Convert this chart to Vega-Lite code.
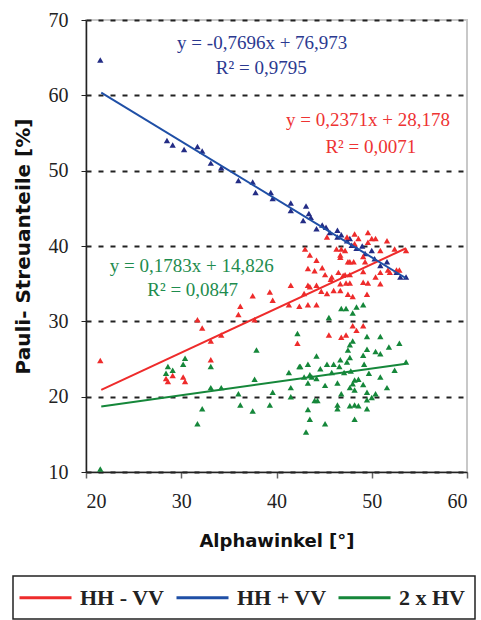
{
  "$schema": "https://vega.github.io/schema/vega-lite/v6.json",
  "width": 381,
  "height": 452,
  "autosize": {"type": "none"},
  "padding": {"left": 86, "top": 20, "right": 14, "bottom": 148},
  "background": "white",
  "config": {
    "view": {"stroke": "#c8c8c8", "strokeWidth": 2},
    "legend": {
      "orient": "none", "legendX": -73, "legendY": 556, "direction": "horizontal",
      "symbolType": "M-2.6,0H2.6", "symbolSize": 400, "symbolStrokeWidth": 3,
      "symbolOffset": 11, "labelOffset": 23,
      "labelFont": "Liberation Serif", "labelFontWeight": "bold", "labelFontSize": 22, "labelColor": "#222",
      "strokeColor": "#222", "strokeWidth": 1.5, "fillColor": "white", "padding": 10,
      "columnPadding": 5
    }
  },
  "datasets": {
    "pts": [
      {"s": "HH + VV", "x": 21.5, "y": 64.7}, {"s": "HH + VV", "x": 28.5, "y": 54.0}, {"s": "HH + VV", "x": 29.1, "y": 53.4},
      {"s": "HH + VV", "x": 30.3, "y": 52.8}, {"s": "HH + VV", "x": 31.7, "y": 53.2}, {"s": "HH + VV", "x": 32.2, "y": 52.6},
      {"s": "HH + VV", "x": 33.1, "y": 51.0}, {"s": "HH + VV", "x": 34.2, "y": 50.4}, {"s": "HH + VV", "x": 36.0, "y": 48.7},
      {"s": "HH + VV", "x": 37.5, "y": 48.5}, {"s": "HH + VV", "x": 37.8, "y": 47.1}, {"s": "HH + VV", "x": 39.4, "y": 47.1},
      {"s": "HH + VV", "x": 39.6, "y": 46.3}, {"s": "HH + VV", "x": 41.5, "y": 45.7}, {"s": "HH + VV", "x": 41.5, "y": 44.7},
      {"s": "HH + VV", "x": 43.1, "y": 45.3}, {"s": "HH + VV", "x": 43.4, "y": 44.3}, {"s": "HH + VV", "x": 42.8, "y": 43.4},
      {"s": "HH + VV", "x": 43.6, "y": 43.8}, {"s": "HH + VV", "x": 44.2, "y": 42.3}, {"s": "HH + VV", "x": 45.2, "y": 42.5},
      {"s": "HH + VV", "x": 46.4, "y": 42.1}, {"s": "HH + VV", "x": 46.4, "y": 41.2}, {"s": "HH + VV", "x": 47.4, "y": 40.7},
      {"s": "HH + VV", "x": 47.9, "y": 40.1}, {"s": "HH + VV", "x": 48.4, "y": 39.7}, {"s": "HH + VV", "x": 46.8, "y": 41.5},
      {"s": "HH + VV", "x": 47.7, "y": 41.0}, {"s": "HH + VV", "x": 50.0, "y": 39.4}, {"s": "HH + VV", "x": 50.3, "y": 38.3},
      {"s": "HH + VV", "x": 51.6, "y": 37.9}, {"s": "HH + VV", "x": 50.9, "y": 37.4}, {"s": "HH + VV", "x": 53.0, "y": 35.9},
      {"s": "HH + VV", "x": 53.6, "y": 35.9}, {"s": "HH + VV", "x": 49.3, "y": 39.0}, {"s": "HH + VV", "x": 52.6, "y": 36.5},
      {"s": "HH + VV", "x": 44.8, "y": 42.8}, {"s": "HH + VV", "x": 45.6, "y": 41.8}, {"s": "HH + VV", "x": 49.0, "y": 40.0},

      {"s": "HH - VV", "x": 21.5, "y": 24.8}, {"s": "HH - VV", "x": 28.4, "y": 22.4}, {"s": "HH - VV", "x": 28.6, "y": 22.0},
      {"s": "HH - VV", "x": 29.1, "y": 22.8}, {"s": "HH - VV", "x": 30.2, "y": 22.6}, {"s": "HH - VV", "x": 30.4, "y": 22.0},
      {"s": "HH - VV", "x": 31.7, "y": 30.2}, {"s": "HH - VV", "x": 32.2, "y": 29.1}, {"s": "HH - VV", "x": 33.1, "y": 27.4},
      {"s": "HH - VV", "x": 33.1, "y": 24.9}, {"s": "HH - VV", "x": 34.2, "y": 28.2}, {"s": "HH - VV", "x": 36.0, "y": 30.9},
      {"s": "HH - VV", "x": 36.2, "y": 32.0}, {"s": "HH - VV", "x": 37.5, "y": 33.4}, {"s": "HH - VV", "x": 37.7, "y": 30.2},
      {"s": "HH - VV", "x": 39.3, "y": 33.9}, {"s": "HH - VV", "x": 39.6, "y": 32.8}, {"s": "HH - VV", "x": 41.5, "y": 34.8},
      {"s": "HH - VV", "x": 41.3, "y": 32.2}, {"s": "HH - VV", "x": 42.4, "y": 32.0}, {"s": "HH - VV", "x": 43.3, "y": 34.8},
      {"s": "HH - VV", "x": 43.5, "y": 34.6}, {"s": "HH - VV", "x": 42.9, "y": 33.7}, {"s": "HH - VV", "x": 44.2, "y": 34.8},
      {"s": "HH - VV", "x": 44.7, "y": 34.0}, {"s": "HH - VV", "x": 43.3, "y": 32.2}, {"s": "HH - VV", "x": 44.2, "y": 32.2},
      {"s": "HH - VV", "x": 45.3, "y": 33.7}, {"s": "HH - VV", "x": 45.1, "y": 36.2}, {"s": "HH - VV", "x": 45.7, "y": 35.6},
      {"s": "HH - VV", "x": 46.0, "y": 34.1}, {"s": "HH - VV", "x": 46.7, "y": 35.0}, {"s": "HH - VV", "x": 46.7, "y": 34.1},
      {"s": "HH - VV", "x": 46.5, "y": 36.5}, {"s": "HH - VV", "x": 47.2, "y": 36.2}, {"s": "HH - VV", "x": 47.7, "y": 36.2},
      {"s": "HH - VV", "x": 47.3, "y": 35.1}, {"s": "HH - VV", "x": 47.7, "y": 35.1}, {"s": "HH - VV", "x": 47.5, "y": 33.6},
      {"s": "HH - VV", "x": 48.0, "y": 33.3}, {"s": "HH - VV", "x": 49.5, "y": 33.6}, {"s": "HH - VV", "x": 49.6, "y": 35.1},
      {"s": "HH - VV", "x": 45.5, "y": 28.2}, {"s": "HH - VV", "x": 42.2, "y": 27.1},
      {"s": "HH - VV", "x": 46.8, "y": 27.9}, {"s": "HH - VV", "x": 47.3, "y": 28.2}, {"s": "HH - VV", "x": 48.0, "y": 29.4},
      {"s": "HH - VV", "x": 48.4, "y": 28.8}, {"s": "HH - VV", "x": 49.1, "y": 29.4}, {"s": "HH - VV", "x": 49.1, "y": 35.2},
      {"s": "HH - VV", "x": 50.9, "y": 35.0}, {"s": "HH - VV", "x": 50.4, "y": 35.9}, {"s": "HH - VV", "x": 50.9, "y": 36.5},
      {"s": "HH - VV", "x": 49.1, "y": 36.6}, {"s": "HH - VV", "x": 51.7, "y": 36.8}, {"s": "HH - VV", "x": 52.6, "y": 36.8},
      {"s": "HH - VV", "x": 48.2, "y": 41.6}, {"s": "HH - VV", "x": 49.6, "y": 41.8}, {"s": "HH - VV", "x": 47.4, "y": 41.2},
      {"s": "HH - VV", "x": 48.6, "y": 41.0}, {"s": "HH - VV", "x": 50.0, "y": 41.0}, {"s": "HH - VV", "x": 50.4, "y": 41.0},
      {"s": "HH - VV", "x": 51.6, "y": 40.7}, {"s": "HH - VV", "x": 48.2, "y": 40.3}, {"s": "HH - VV", "x": 49.6, "y": 40.5},
      {"s": "HH - VV", "x": 50.9, "y": 39.4}, {"s": "HH - VV", "x": 52.4, "y": 39.6}, {"s": "HH - VV", "x": 53.6, "y": 39.4},
      {"s": "HH - VV", "x": 46.7, "y": 38.5}, {"s": "HH - VV", "x": 47.7, "y": 37.9}, {"s": "HH - VV", "x": 48.1, "y": 37.9},
      {"s": "HH - VV", "x": 49.1, "y": 38.6}, {"s": "HH - VV", "x": 49.3, "y": 37.9}, {"s": "HH - VV", "x": 51.9, "y": 36.5},
      {"s": "HH - VV", "x": 52.9, "y": 36.8}, {"s": "HH - VV", "x": 47.0, "y": 36.1}, {"s": "HH - VV", "x": 46.8, "y": 39.6},
      {"s": "HH - VV", "x": 47.2, "y": 39.4}, {"s": "HH - VV", "x": 45.3, "y": 41.2}, {"s": "HH - VV", "x": 46.3, "y": 39.6},
      {"s": "HH - VV", "x": 43.0, "y": 39.6}, {"s": "HH - VV", "x": 43.5, "y": 38.8}, {"s": "HH - VV", "x": 44.2, "y": 38.1},
      {"s": "HH - VV", "x": 43.3, "y": 37.0}, {"s": "HH - VV", "x": 44.0, "y": 36.7}, {"s": "HH - VV", "x": 44.8, "y": 37.1},
      {"s": "HH - VV", "x": 45.8, "y": 35.9}, {"s": "HH - VV", "x": 46.7, "y": 38.8}, {"s": "HH - VV", "x": 47.5, "y": 37.9},

      {"s": "2 x HV", "x": 21.5, "y": 10.4}, {"s": "2 x HV", "x": 28.4, "y": 23.1}, {"s": "2 x HV", "x": 28.6, "y": 24.0},
      {"s": "2 x HV", "x": 29.1, "y": 23.5}, {"s": "2 x HV", "x": 30.2, "y": 24.3}, {"s": "2 x HV", "x": 30.4, "y": 25.1},
      {"s": "2 x HV", "x": 31.7, "y": 16.4}, {"s": "2 x HV", "x": 32.2, "y": 18.4}, {"s": "2 x HV", "x": 33.1, "y": 24.0},
      {"s": "2 x HV", "x": 33.1, "y": 21.2}, {"s": "2 x HV", "x": 34.2, "y": 21.2}, {"s": "2 x HV", "x": 36.0, "y": 20.4},
      {"s": "2 x HV", "x": 36.2, "y": 18.9}, {"s": "2 x HV", "x": 37.5, "y": 18.1}, {"s": "2 x HV", "x": 37.7, "y": 22.3},
      {"s": "2 x HV", "x": 37.9, "y": 26.2}, {"s": "2 x HV", "x": 39.6, "y": 20.6}, {"s": "2 x HV", "x": 39.3, "y": 18.9},
      {"s": "2 x HV", "x": 41.3, "y": 23.2}, {"s": "2 x HV", "x": 41.5, "y": 21.2}, {"s": "2 x HV", "x": 41.5, "y": 20.0},
      {"s": "2 x HV", "x": 42.4, "y": 24.0}, {"s": "2 x HV", "x": 42.2, "y": 28.4}, {"s": "2 x HV", "x": 42.9, "y": 22.6},
      {"s": "2 x HV", "x": 43.3, "y": 24.3}, {"s": "2 x HV", "x": 43.5, "y": 22.9}, {"s": "2 x HV", "x": 43.3, "y": 21.8},
      {"s": "2 x HV", "x": 43.7, "y": 22.6}, {"s": "2 x HV", "x": 44.2, "y": 22.4}, {"s": "2 x HV", "x": 44.0, "y": 19.5},
      {"s": "2 x HV", "x": 44.3, "y": 19.5}, {"s": "2 x HV", "x": 43.3, "y": 18.3}, {"s": "2 x HV", "x": 43.5, "y": 17.0},
      {"s": "2 x HV", "x": 43.1, "y": 15.3}, {"s": "2 x HV", "x": 44.2, "y": 25.4}, {"s": "2 x HV", "x": 44.6, "y": 23.7},
      {"s": "2 x HV", "x": 45.1, "y": 21.5}, {"s": "2 x HV", "x": 45.1, "y": 16.4}, {"s": "2 x HV", "x": 45.3, "y": 24.3},
      {"s": "2 x HV", "x": 45.5, "y": 30.5}, {"s": "2 x HV", "x": 46.0, "y": 24.3}, {"s": "2 x HV", "x": 45.8, "y": 23.2},
      {"s": "2 x HV", "x": 46.4, "y": 21.8}, {"s": "2 x HV", "x": 46.7, "y": 24.9}, {"s": "2 x HV", "x": 46.6, "y": 24.0},
      {"s": "2 x HV", "x": 46.8, "y": 20.4}, {"s": "2 x HV", "x": 46.4, "y": 18.9}, {"s": "2 x HV", "x": 46.4, "y": 18.4},
      {"s": "2 x HV", "x": 46.8, "y": 31.7}, {"s": "2 x HV", "x": 47.3, "y": 31.7}, {"s": "2 x HV", "x": 47.4, "y": 24.6},
      {"s": "2 x HV", "x": 47.1, "y": 23.2}, {"s": "2 x HV", "x": 47.7, "y": 25.2}, {"s": "2 x HV", "x": 47.5, "y": 26.2},
      {"s": "2 x HV", "x": 47.7, "y": 26.9}, {"s": "2 x HV", "x": 48.0, "y": 27.4}, {"s": "2 x HV", "x": 48.0, "y": 31.1},
      {"s": "2 x HV", "x": 48.4, "y": 31.9}, {"s": "2 x HV", "x": 49.1, "y": 32.2}, {"s": "2 x HV", "x": 47.8, "y": 23.4},
      {"s": "2 x HV", "x": 47.7, "y": 21.2}, {"s": "2 x HV", "x": 48.2, "y": 22.2}, {"s": "2 x HV", "x": 48.0, "y": 21.7},
      {"s": "2 x HV", "x": 48.2, "y": 20.9}, {"s": "2 x HV", "x": 47.7, "y": 18.8}, {"s": "2 x HV", "x": 48.2, "y": 18.9},
      {"s": "2 x HV", "x": 48.6, "y": 18.8}, {"s": "2 x HV", "x": 48.2, "y": 17.0}, {"s": "2 x HV", "x": 49.1, "y": 25.5},
      {"s": "2 x HV", "x": 49.2, "y": 24.3}, {"s": "2 x HV", "x": 49.1, "y": 21.6}, {"s": "2 x HV", "x": 49.5, "y": 28.0},
      {"s": "2 x HV", "x": 49.5, "y": 26.3}, {"s": "2 x HV", "x": 49.7, "y": 23.1}, {"s": "2 x HV", "x": 49.5, "y": 20.6},
      {"s": "2 x HV", "x": 49.5, "y": 19.6}, {"s": "2 x HV", "x": 49.5, "y": 18.4}, {"s": "2 x HV", "x": 50.0, "y": 19.9},
      {"s": "2 x HV", "x": 50.4, "y": 26.0}, {"s": "2 x HV", "x": 50.4, "y": 20.4}, {"s": "2 x HV", "x": 50.9, "y": 28.0},
      {"s": "2 x HV", "x": 50.9, "y": 25.7}, {"s": "2 x HV", "x": 50.9, "y": 22.6}, {"s": "2 x HV", "x": 51.6, "y": 21.2},
      {"s": "2 x HV", "x": 51.8, "y": 26.6}, {"s": "2 x HV", "x": 52.4, "y": 23.5}, {"s": "2 x HV", "x": 52.9, "y": 27.1},
      {"s": "2 x HV", "x": 53.6, "y": 24.6}, {"s": "2 x HV", "x": 48.6, "y": 22.3}, {"s": "2 x HV", "x": 42.5, "y": 24.0}
    ],
    "lines": [
      {"s": "HH - VV", "x": 21.6, "y": 20.9}, {"s": "HH - VV", "x": 53.6, "y": 39.7},
      {"s": "HH + VV", "x": 21.6, "y": 60.35}, {"s": "HH + VV", "x": 53.6, "y": 35.72},
      {"s": "2 x HV", "x": 21.6, "y": 18.68}, {"s": "2 x HV", "x": 53.6, "y": 24.38}
    ],
    "notes": [
      {"s": "HH + VV", "x": 38.5, "y": 66.9, "t": "y = -0,7696x + 76,973"},
      {"s": "HH + VV", "x": 38.4, "y": 63.6, "t": "R² = 0,9795"},
      {"s": "HH - VV", "x": 49.6, "y": 56.7, "t": "y = 0,2371x + 28,178"},
      {"s": "HH - VV", "x": 49.9, "y": 53.2, "t": "R² = 0,0071"},
      {"s": "2 x HV", "x": 31.1, "y": 37.4, "t": "y = 0,1783x + 14,826"},
      {"s": "2 x HV", "x": 31.2, "y": 34.1, "t": "R² = 0,0847"}
    ]
  },
  "encoding": {
    "x": {
      "field": "x", "type": "quantitative",
      "scale": {"domain": [20, 60], "nice": false, "zero": false},
      "axis": {
        "values": [20, 30, 40, 50, 60], "grid": false, "tickSize": 6, "labelPadding": 13,
        "labelFont": "Liberation Serif", "labelFontSize": 20, "labelColor": "#222",
        "domainColor": "#222", "domainWidth": 1.5, "tickColor": "#666", "tickWidth": 1.5,
        "title": "Alphawinkel [°]", "titleFont": "DejaVu Sans", "titleFontWeight": "bold",
        "titleFontSize": 18, "titleColor": "#111", "titlePadding": 21
      }
    },
    "y": {
      "field": "y", "type": "quantitative",
      "scale": {"domain": [10, 70], "nice": false, "zero": false},
      "axis": {
        "values": [10, 20, 30, 40, 50, 60, 70], "grid": true, "gridDash": [5, 7], "gridColor": "#222",
        "gridWidth": 2, "tickSize": 5, "labelPadding": 13,
        "labelFont": "Liberation Serif", "labelFontSize": 20, "labelColor": "#222",
        "domainColor": "#222", "domainWidth": 1.5, "tickColor": "#222",
        "title": "Pauli- Streuanteile [%]", "titleFont": "DejaVu Sans", "titleFontWeight": "bold",
        "titleFontSize": 20, "titleColor": "#111", "titlePadding": 15
      }
    }
  },
  "layer": [
    {
      "data": {"name": "pts"},
      "mark": {"type": "point", "shape": "triangle-up", "filled": true, "opacity": 1, "size": 40},
      "encoding": {
        "color": {
          "field": "s", "type": "nominal", "legend": null,
          "scale": {"domain": ["HH - VV", "HH + VV", "2 x HV"], "range": ["#ee2b2b", "#232c85", "#15873a"]}
        }
      }
    },
    {
      "data": {"name": "lines"},
      "mark": {"type": "line", "strokeWidth": 2},
      "encoding": {
        "color": {
          "field": "s", "type": "nominal", "sort": ["HH - VV", "HH + VV", "2 x HV"], "title": null,
          "scale": {"domain": ["HH - VV", "HH + VV", "2 x HV"], "range": ["#ee2b2b", "#1f4fa6", "#15873a"]}
        }
      }
    },
    {
      "data": {"name": "notes"},
      "mark": {"type": "text", "font": "Liberation Serif", "fontSize": 19, "align": "center", "baseline": "middle"},
      "encoding": {
        "text": {"field": "t"},
        "color": {
          "field": "s", "type": "nominal", "legend": null,
          "scale": {"domain": ["HH - VV", "HH + VV", "2 x HV"], "range": ["#ee3333", "#2b3990", "#1e8c4e"]}
        }
      }
    }
  ],
  "resolve": {"scale": {"color": "independent"}}
}
